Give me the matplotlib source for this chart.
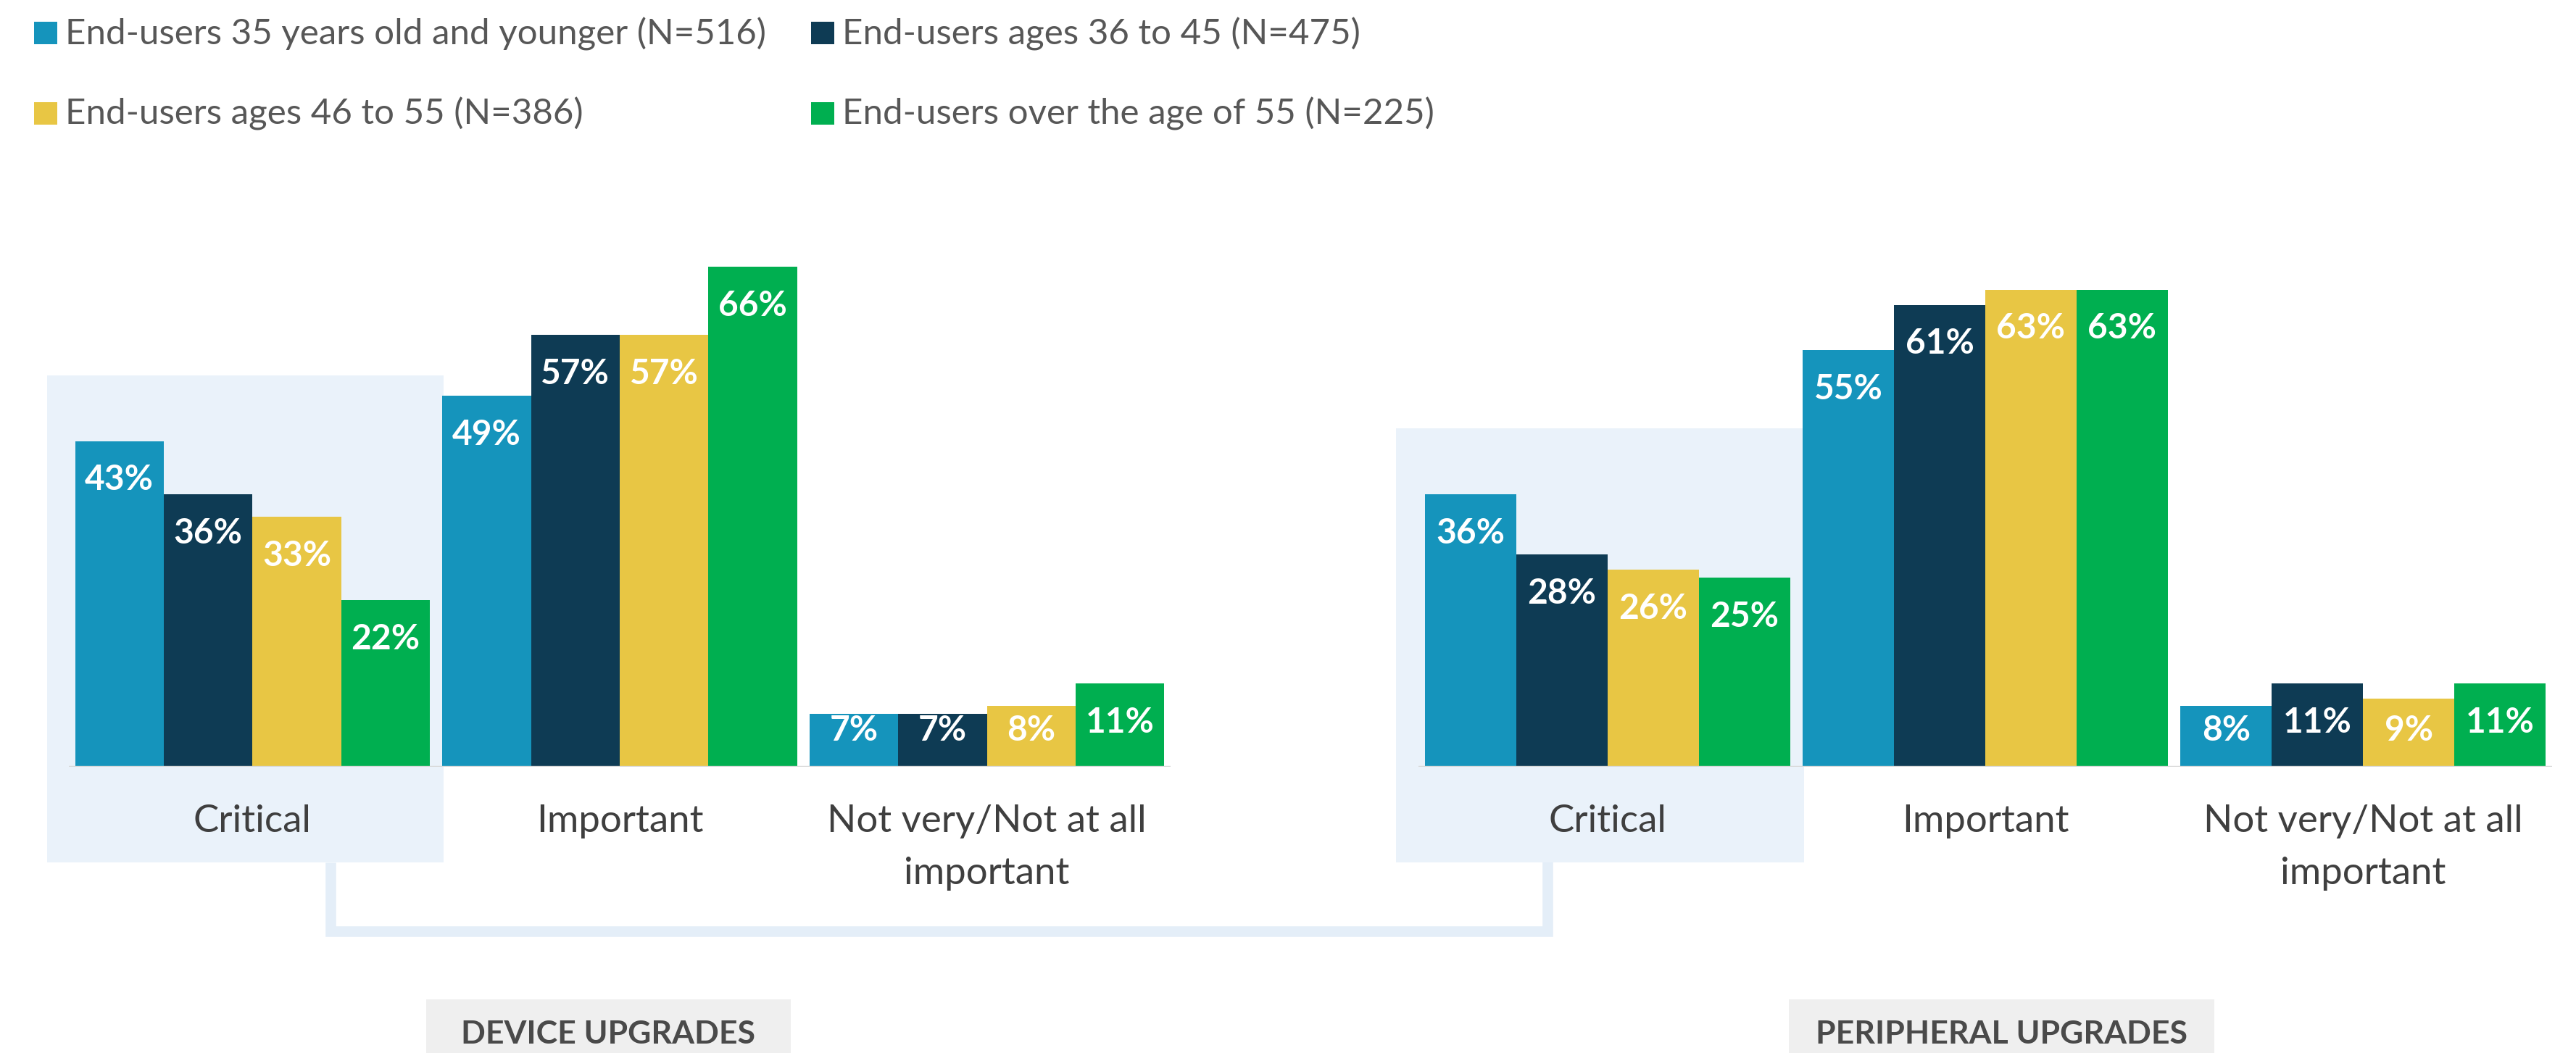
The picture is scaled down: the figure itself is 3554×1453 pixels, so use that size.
import matplotlib
matplotlib.use("Agg")
import matplotlib.pyplot as plt
from matplotlib.patches import Rectangle
import numpy as np

plt.rcParams['font.family'] = ['Lato', 'DejaVu Sans']

# ---- data -------------------------------------------------------------
categories = ["Critical", "Important", "Not very/Not at all\nimportant"]
series_names = [
    "End-users 35 years old and younger (N=516)",
    "End-users ages 36 to 45 (N=475)",
    "End-users ages 46 to 55 (N=386)",
    "End-users over the age of 55 (N=225)",
]
series_colors = ["#1594BC", "#0E3B54", "#E8C644", "#00AF50"]

device_under_35 = [43, 49, 7]
device_36_45 = [36, 57, 7]
device_46_55 = [33, 57, 8]
device_over_55 = [22, 66, 11]

peripheral_under_35 = [36, 55, 8]
peripheral_36_45 = [28, 61, 11]
peripheral_46_55 = [26, 63, 9]
peripheral_over_55 = [25, 63, 11]

panel_titles = ["DEVICE UPGRADES", "PERIPHERAL UPGRADES"]

# ---- layout -----------------------------------------------------------
W, H = 3555, 1453
fig = plt.figure(figsize=(W / 100, H / 100), dpi=100)
fig.patch.set_facecolor("white")

BASE = 1058          # pixel row of the zero line
PX_PER_PCT = 10.45
YMAX = 70
FS_VALUE = 34.5
FS_CAT = 38
FS_LEGEND = 35.5
TEXT_GREY = "#575757"
LABEL_GREY = "#3F3F3F"
HILITE = "#EAF2FA"

bg = fig.add_axes([0, 0, 1, 1], zorder=0)
bg.set_xlim(0, W)
bg.set_ylim(H, 0)
bg.axis("off")


def panel_axes(x0, x1):
    top = BASE - YMAX * PX_PER_PCT
    ax = fig.add_axes([x0 / W, 1 - BASE / H, (x1 - x0) / W, (BASE - top) / H], zorder=1)
    ax.set_xlim(-0.5, 2.5)
    ax.set_ylim(0, YMAX)
    ax.patch.set_alpha(0)
    ax.axis("off")
    return ax


def draw_panel(ax, groups):
    x = np.arange(len(categories))
    bw = 0.2416
    offsets = (np.arange(len(groups)) - 1.5) * bw
    # highlight band behind the first category
    crit_max = max(g[0] for g in groups)
    ax.add_patch(Rectangle((-0.56, -12.6), 1.08, crit_max + 8.7 + 12.6,
                           facecolor=HILITE, edgecolor="none", zorder=0, clip_on=False))
    for vals, off, col in zip(groups, offsets, series_colors):
        ax.bar(x + off, vals, width=bw, color=col, linewidth=0, zorder=2)
        for xi, v in zip(x + off, vals):
            ax.text(xi, max(v - 5.15, 4.8), f"{v}%", ha="center", va="center",
                    color="white", fontweight="bold", fontsize=FS_VALUE, zorder=3)
    ax.axhline(0, color="#D6D6D6", lw=2.4, zorder=3)
    for xi, cat in zip(x, categories):
        for k, line in enumerate(cat.split("\n")):
            y = (BASE - (1148 + 72 * k)) / PX_PER_PCT
            ax.text(xi, y, line, ha="center", va="baseline", color=LABEL_GREY,
                    fontsize=FS_CAT, clip_on=False)


ax_dev = panel_axes(95, 1615)
ax_per = panel_axes(1957, 3521)
draw_panel(ax_dev, [device_under_35, device_36_45, device_46_55, device_over_55])
draw_panel(ax_per, [peripheral_under_35, peripheral_36_45, peripheral_46_55, peripheral_over_55])

# connector joining the two highlighted categories
bg.plot([456, 456, 2135, 2135], [1190, 1285, 1285, 1186], color="#E4EEF8",
        lw=10.5, solid_joinstyle="miter", solid_capstyle="butt", zorder=0)

# legend
leg_pos = [(47, 30), (1119, 30), (47, 141), (1119, 141)]
for (lx, ly), name, col in zip(leg_pos, series_names, series_colors):
    bg.add_patch(Rectangle((lx, ly), 32, 31, facecolor=col, edgecolor="none"))
    bg.text(lx + 43, ly + 31, name, ha="left", va="baseline", color=TEXT_GREY, fontsize=FS_LEGEND)

# panel title tabs at the bottom
for (bx0, bx1), title in zip([(588, 1091), (2468, 3055)], panel_titles):
    bg.add_patch(Rectangle((bx0, 1379), bx1 - bx0, 90, facecolor="#EFEFEF", edgecolor="none"))
    bg.text((bx0 + bx1) / 2, 1440, title, ha="center", va="baseline", color="#4A4A4A",
            fontsize=32, fontweight="bold")

fig.savefig("out.png", dpi=100, facecolor="white")
